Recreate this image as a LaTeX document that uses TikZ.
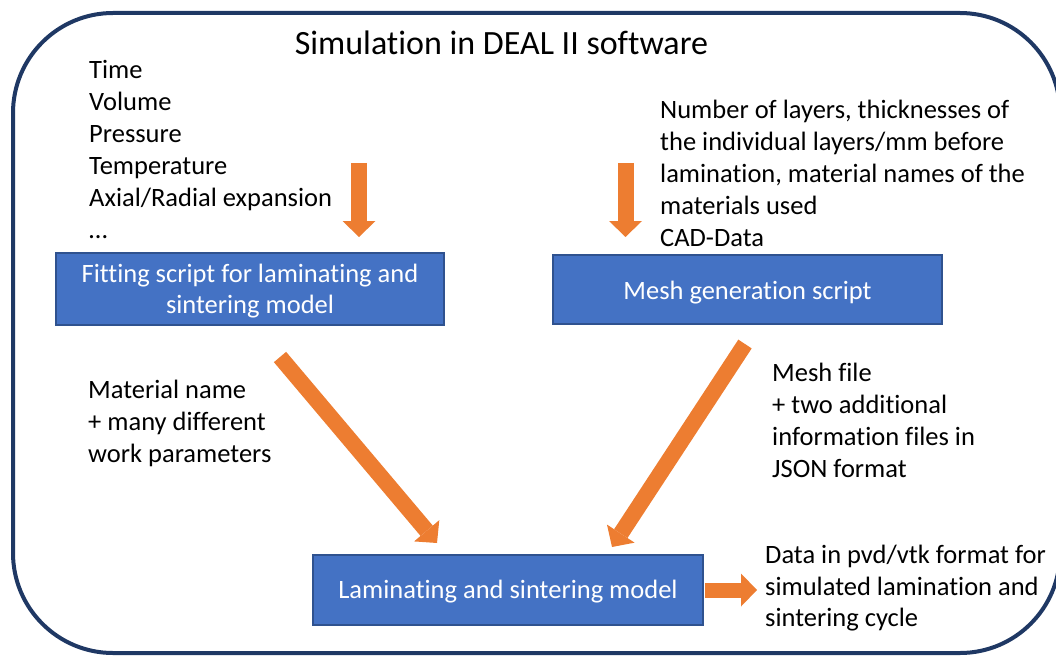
\documentclass[tikz,border=0pt]{standalone}
\usepackage{fontspec}
\setmainfont{Carlito}[Ligatures={CommonOff,ContextualOff,RareOff}]
\usetikzlibrary{arrows.meta}
\definecolor{navyC}{HTML}{1F3864}
\definecolor{boxC}{HTML}{4472C4}
\definecolor{boxD}{HTML}{2F528F}
\definecolor{orangeC}{HTML}{ED7D31}
\tikzset{
  txt/.style={inner sep=0pt, align=left, anchor=north west, font=\fontsize{26.5}{32}\selectfont},
  procbox/.style={draw=boxD, line width=1.5pt, fill=boxC, text=white, align=center,
    inner sep=0pt, font=\fontsize{26.5}{31}\selectfont},
  flow/.style={draw=orangeC, line width=16pt,
    -{Triangle[width=33pt,length=16pt,line width=0pt,fill=orangeC]}},
}
\begin{document}
\begin{tikzpicture}[x=1pt,y=-1pt]
\useasboundingbox (0,0) rectangle (1056,655);
\draw[navyC, line width=4pt, rounded corners=100pt] (13,13) rectangle (1060,653);

\node[inner sep=0pt, anchor=base, font=\fontsize{34}{40}\selectfont] (title) at (501.5,55) {Simulation in DEAL II software};

\node[txt] (inputs) at (89,55.6) {\strut Time\\Volume\\Pressure\\Temperature\\Axial/Radial expansion\\…};
\node[txt] (layers) at (660,95.6) {\strut Number of layers, thicknesses of\\the individual layers/mm before\\lamination, material names of the\\materials used\\CAD-Data};
\node[txt] (matname) at (88,375.6) {\strut Material name\\+ many different\\work parameters};
\node[txt] (meshfile) at (772,358.6) {\strut Mesh file\\+ two additional\\information files in\\JSON format};
\node[txt, font=\fontsize{26.5}{31.5}\selectfont] (data) at (765,541.6) {\strut Data in pvd/vtk format for\\simulated lamination and\\sintering cycle};

\node[procbox, minimum width=388pt, minimum height=72pt] (fit) at (250,289)
  {\rule{0pt}{22.5pt}Fitting script for laminating and\\sintering model};
\node[procbox, minimum width=389pt, minimum height=69pt, text height=23.5pt, text depth=3pt] (mesh) at (747.5,289.5)
  {Mesh generation script};
\node[procbox, minimum width=390pt, minimum height=70pt, text height=20pt, text depth=3.5pt] (lam) at (508,590)
  {Laminating and sintering model};

\coordinate (a1s) at (359,163);   \coordinate (a1e) at (359,237);
\coordinate (a2s) at (625.5,163); \coordinate (a2e) at (625.5,237);
\coordinate (a3s) at (280,357);   \coordinate (a3e) at (437,543);
\coordinate (a4s) at (745,344);   \coordinate (a4e) at (612,547);
\coordinate (a5e) at (757,590);

\draw[flow] (a1s) -- (a1e);
\draw[flow] (a2s) -- (a2e);
\draw[flow] (a3s) -- (a3e);
\draw[flow] (a4s) -- (a4e);
\draw[flow, line width=15pt] (lam.east) ++(1,0) -- (a5e);
\end{tikzpicture}
\end{document}
